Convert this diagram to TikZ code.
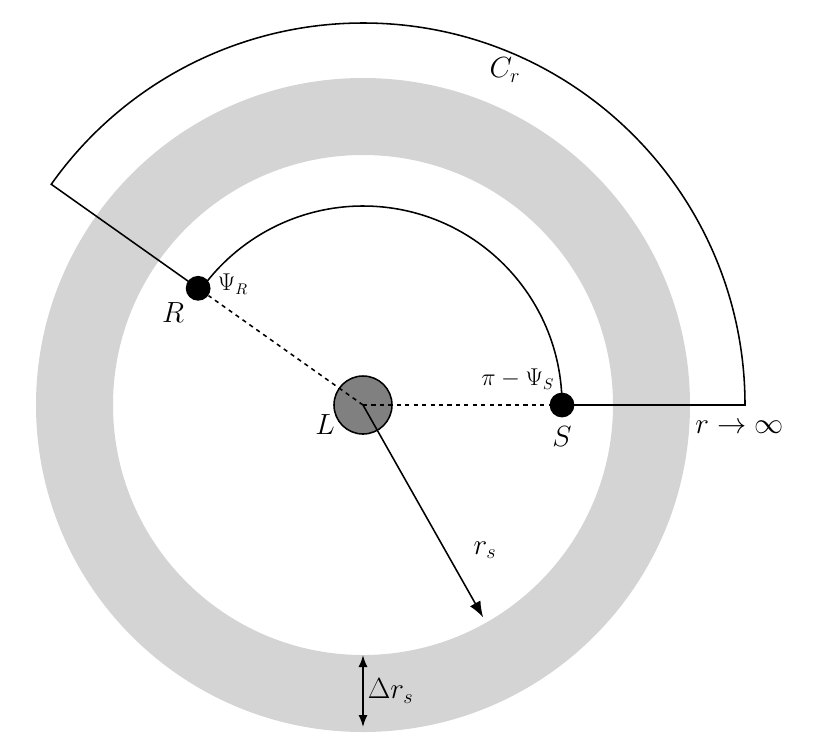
\documentclass[tikz,border=0pt]{standalone}
\usepackage{tikz}
\usetikzlibrary{positioning,arrows.meta}

\tikzset{
    lbl/.style = {font=\fontsize{21}{24}\selectfont},
    smalllbl/.style = {font=\fontsize{16}{19}\selectfont},
    dot/.style = {circle, fill=black, inner sep=0pt, minimum size=0.62cm},
    ln/.style = {line width=1.1pt}
}

\begin{document}
\begin{tikzpicture}[x=0.025cm, y=0.025cm]
    \useasboundingbox (-363,-334) rectangle (469,405);
    % shell
    \fill[black!17, even odd rule] (0,0) circle (327) (0,0) circle (250);
    % contour
    \coordinate (far) at (382,0);
    \draw[ln] (199,0) -- (far) arc (0:144.7:382) -- (144.7:202);
    \draw[ln] (0:199) arc (0:144.7:199);
    \node[lbl] at (505-363,405-70) (cr) {$C_r$};
    % lens and points
    \node[circle, draw, ln, fill=black!50, minimum size=1.45cm] (L) at (0,0) {};
    \node[dot] (S) at (0:199) {};
    \node[dot] (R) at (144.7:202) {};
    \draw[ln, dashed] (L.center) -- (S);
    \draw[ln, dashed] (L.center) -- (R);
    \node[lbl] at (-38,-20) (nL) {$L$};
    \node[lbl, below=0.1cm of S] (nS) {$S$};
    \node[lbl, below left=0cm and 0cm of R] (nR) {$R$};
    \node[smalllbl, right=0.05cm of R, yshift=0.1cm] (psir) {$\Psi_R$};
    \node[smalllbl, above left=0.05cm and -0.15cm of S] (psis) {$\pi-\Psi_S$};
    \node[lbl, anchor=west, inner sep=0pt] at (332,-22) (inf) {$r\to\infty$};
    % radius
    \coordinate (rs) at (-60.5:244);
    \draw[ln, -{Latex[length=0.4cm]}] (L.center) -- (rs);
    \node[lbl] at (485-363,405-550) (nrs) {$r_s$};
    % thickness
    \coordinate (in) at (0,-250);
    \coordinate (out) at (0,-322);
    \draw[ln, {Latex[length=0.3cm]}-{Latex[length=0.3cm]}] (in) -- (out);
    \node[lbl, right=0cm of in, yshift=-0.9cm] (drs) {$\Delta r_s$};
\end{tikzpicture}
\end{document}
